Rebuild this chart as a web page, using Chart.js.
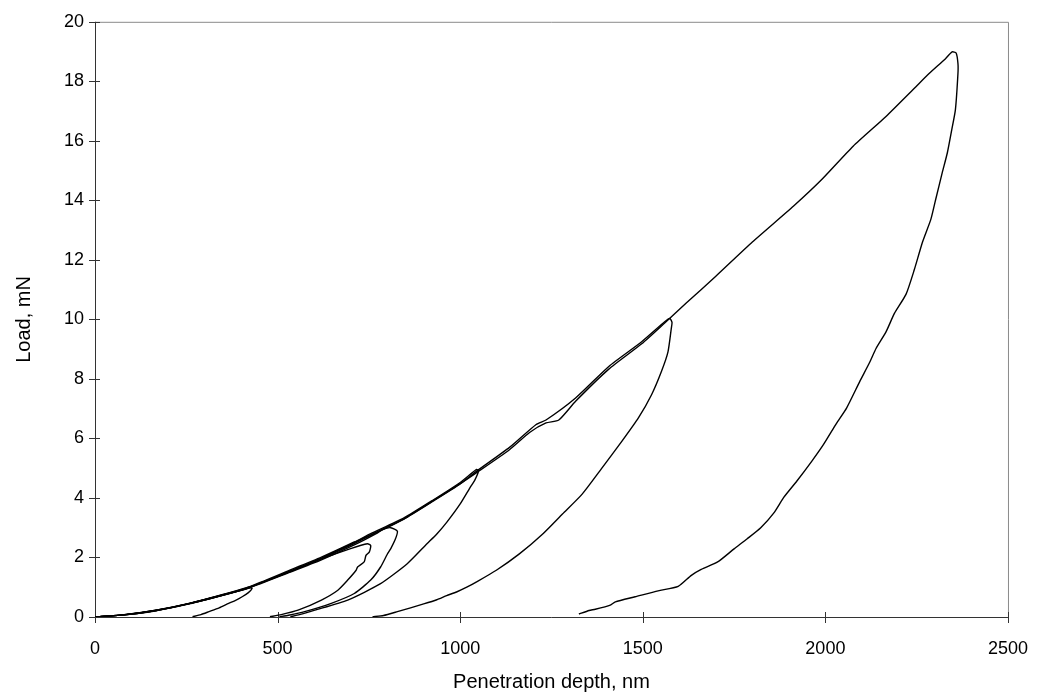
<!DOCTYPE html>
<html>
<head>
<meta charset="utf-8">
<script src="https://cdn.jsdelivr.net/npm/chart.js@4.4.1/dist/chart.umd.min.js"></script>
<style>
  html, body { margin: 0; padding: 0; background: #fff; }
  #wrap { width: 1049px; height: 697px; }
</style>
</head>
<body>
<div id="wrap"><canvas id="indent-chart" width="1049" height="697"></canvas></div>
<script>
// 軸の目盛り
const depthTicks = [0, 500, 1000, 1500, 2000, 2500];
const loadTicks = [0, 2, 4, 6, 8, 10, 12, 14, 16, 18, 20];

// 試験1 (最大 約1 mN)
const test1Depth = [0, 80, 167, 258, 340, 400, 425, 430, 420, 403, 385, 366, 340, 312, 290, 267];
const test1Load  = [0, 0.07, 0.21, 0.44, 0.70, 0.90, 0.98, 0.96, 0.82, 0.68, 0.56, 0.46, 0.31, 0.18, 0.08, 0.01];

// 試験2 (最大 約2.5 mN)
const test2Depth = [0, 80, 167, 258, 366, 421, 529, 620, 700, 746, 755, 751, 742, 737, 719, 715, 692, 665, 620, 556, 510, 479];
const test2Load  = [0, 0.08, 0.23, 0.46, 0.80, 1.00, 1.50, 1.95, 2.30, 2.46, 2.40, 2.18, 2.07, 1.85, 1.68, 1.57, 1.24, 0.90, 0.57, 0.23, 0.08, 0.01];

// 試験3 (最大 約3 mN)
const test3Depth = [0, 80, 167, 258, 366, 421, 529, 620, 710, 770, 790, 810, 828, 822, 810, 800, 782, 755, 710, 647, 574, 530, 505];
const test3Load  = [0, 0.07, 0.22, 0.45, 0.78, 0.97, 1.48, 1.92, 2.42, 2.80, 2.95, 3.00, 2.88, 2.60, 2.30, 2.10, 1.68, 1.24, 0.79, 0.46, 0.18, 0.06, 0.01];

// 試験4 (最大 約5 mN)
const test4Depth = [0, 80, 167, 258, 366, 421, 529, 620, 710, 755, 846, 927, 1000, 1045, 1050, 1040, 1027, 1000, 963, 936, 909, 855, 782, 692, 602, 560, 535];
const test4Load  = [0, 0.08, 0.23, 0.46, 0.81, 1.01, 1.55, 2.01, 2.52, 2.80, 3.33, 3.94, 4.52, 4.96, 4.90, 4.60, 4.35, 3.80, 3.18, 2.79, 2.46, 1.79, 1.12, 0.57, 0.23, 0.08, 0.01];

// 試験5 (最大 約10 mN)
const test5Depth = [0, 80, 167, 258, 366, 421, 529, 620, 710, 755, 846, 927, 1000, 1045, 1135, 1208, 1235, 1316, 1407, 1497, 1560, 1574,
                    1580, 1578, 1569, 1551, 1524, 1488, 1443, 1389, 1334, 1280, 1226, 1162, 1099, 1045, 1018, 990, 963, 936, 900, 828, 790, 760];
const test5Load  = [0, 0.07, 0.22, 0.45, 0.79, 0.99, 1.50, 1.96, 2.47, 2.74, 3.29, 3.90, 4.47, 4.90, 5.70, 6.47, 6.62, 7.36, 8.42, 9.25, 9.92, 10.03,
                    9.90, 9.69, 8.91, 8.25, 7.47, 6.69, 5.91, 5.02, 4.13, 3.46, 2.79, 2.12, 1.57, 1.18, 1.00, 0.84, 0.72, 0.58, 0.44, 0.18, 0.05, 0.01];

// 試験6 (最大 約19 mN)
const test6Depth = [0, 80, 167, 258, 366, 421, 529, 620, 710, 755, 846, 927, 1000, 1045, 1135, 1190, 1235, 1270, 1316, 1407, 1497, 1560, 1619,
                    1700, 1800, 1913, 1990, 2076, 2166, 2248, 2284, 2329, 2347, 2358,
                    2363, 2363, 2356, 2346, 2334, 2320, 2302, 2289, 2266, 2243, 2221, 2189, 2166, 2139, 2121, 2094, 2058, 2030, 1995, 1963,
                    1922, 1886, 1859, 1823, 1786, 1750, 1705, 1660, 1633, 1597, 1542, 1479, 1425, 1411, 1370, 1353, 1325];
const test6Load  = [0, 0.07, 0.22, 0.45, 0.79, 0.99, 1.52, 1.98, 2.50, 2.76, 3.30, 3.92, 4.48, 4.85, 5.62, 6.20, 6.52, 6.62, 7.25, 8.33, 9.18, 9.88, 10.55,
                    11.45, 12.60, 13.81, 14.70, 15.82, 16.82, 17.82, 18.26, 18.76, 18.99, 18.95,
                    18.60, 18.26, 17.04, 16.37, 15.60, 14.93, 14.03, 13.37, 12.60, 11.65, 10.85, 10.20, 9.58, 9.03, 8.55, 7.91, 7.02, 6.50, 5.80, 5.24,
                    4.57, 4.02, 3.50, 3.00, 2.63, 2.29, 1.85, 1.60, 1.40, 1.03, 0.88, 0.68, 0.51, 0.40, 0.26, 0.22, 0.10];

const FONT_FAMILY = '"Liberation Sans", Arial, sans-serif';

/**
 * 深さ・荷重の配列から点列を作る
 */
function toPoints(depths, loads) {
    return depths.map((d, i) => ({ x: d, y: loads[i] }));
}

function makeDataset(label, depths, loads) {
    return {
        label: label,
        data: toPoints(depths, loads),
        showLine: true,
        borderColor: '#000',
        borderWidth: 1.4,
        pointRadius: 0,
        tension: 0.2,
        fill: false,
    };
}

// 枠と目盛り線（軸をまたぐ短い線）
const frameAndTicks = {
    id: 'frameAndTicks',
    beforeDatasetsDraw(chart) {
        const { ctx, chartArea: a, scales: { x, y } } = chart;
        ctx.save();
        ctx.lineWidth = 1;

        // 上と右の枠（薄いグレー）
        ctx.strokeStyle = '#8a8a8a';
        ctx.beginPath();
        ctx.moveTo(a.left, a.top + 0.5);
        ctx.lineTo(a.right + 0.5, a.top + 0.5);
        ctx.lineTo(a.right + 0.5, a.bottom);
        ctx.stroke();

        // 軸線
        ctx.strokeStyle = '#333';
        ctx.beginPath();
        ctx.moveTo(a.left + 0.5, a.top);
        ctx.lineTo(a.left + 0.5, a.bottom + 0.5);
        ctx.lineTo(a.right, a.bottom + 0.5);
        ctx.stroke();

        // 目盛り
        ctx.beginPath();
        depthTicks.forEach(v => {
            const px = Math.round(x.getPixelForValue(v)) + 0.5;
            ctx.moveTo(px, a.bottom - 5);
            ctx.lineTo(px, a.bottom + 6);
        });
        loadTicks.forEach(v => {
            const py = Math.round(y.getPixelForValue(v)) + 0.5;
            ctx.moveTo(a.left - 6, py);
            ctx.lineTo(a.left + 5, py);
        });
        ctx.stroke();
        ctx.restore();
    }
};

document.addEventListener('DOMContentLoaded', () => {
    const ctx = document.getElementById('indent-chart').getContext('2d');

    new Chart(ctx, {
        type: 'scatter',
        data: {
            datasets: [
                makeDataset('1 mN', test1Depth, test1Load),
                makeDataset('2.5 mN', test2Depth, test2Load),
                makeDataset('3 mN', test3Depth, test3Load),
                makeDataset('5 mN', test4Depth, test4Load),
                makeDataset('10 mN', test5Depth, test5Load),
                makeDataset('19 mN', test6Depth, test6Load),
            ],
        },
        options: {
            responsive: false,
            animation: false,
            layout: { padding: { left: 0, top: 18, right: 32, bottom: 0 } },
            plugins: {
                legend: { display: false },
                tooltip: { enabled: false },
            },
            scales: {
                x: {
                    type: 'linear',
                    min: 0,
                    max: 2500,
                    afterBuildTicks: (scale) => { scale.ticks = depthTicks.map(v => ({ value: v })); },
                    afterFit: (scale) => { scale.height = 80; },
                    border: { display: false },
                    grid: { display: false, drawTicks: false },
                    ticks: {
                        padding: 21,
                        color: '#000',
                        font: { size: 18, family: FONT_FAMILY },
                        maxRotation: 0,
                        callback: (value) => String(value),
                    },
                    title: {
                        display: true,
                        text: 'Penetration depth, nm',
                        color: '#000',
                        font: { size: 20, family: FONT_FAMILY },
                        padding: 3,
                    },
                },
                y: {
                    type: 'linear',
                    min: 0,
                    max: 20,
                    afterBuildTicks: (scale) => { scale.ticks = loadTicks.map(v => ({ value: v })); },
                    afterFit: (scale) => { scale.width = 95; },
                    border: { display: false },
                    grid: { display: false, drawTicks: false },
                    ticks: {
                        padding: 11,
                        color: '#000',
                        font: { size: 18, family: FONT_FAMILY },
                    },
                    title: {
                        display: true,
                        text: 'Load, mN',
                        color: '#000',
                        font: { size: 20, family: FONT_FAMILY },
                        padding: 12,
                    },
                },
            },
        },
        plugins: [frameAndTicks],
    });
});
</script>
</body>
</html>
